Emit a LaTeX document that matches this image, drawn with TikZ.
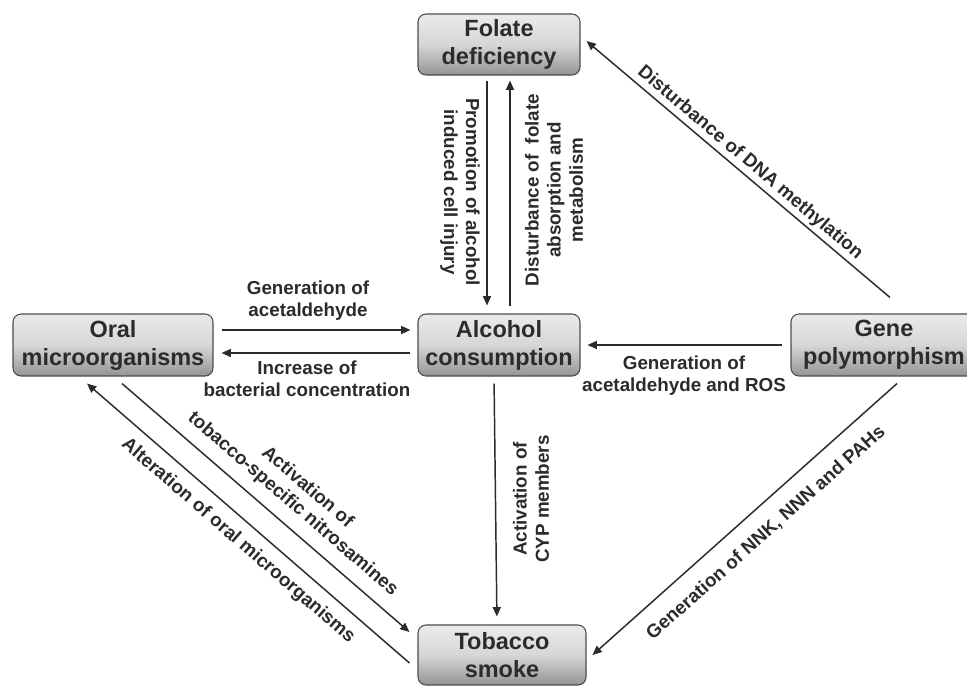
\documentclass[tikz,border=0pt]{standalone}
\usepackage{fontspec}
\setmainfont{Liberation Sans}
\usetikzlibrary{arrows.meta}
\definecolor{ink}{HTML}{2B2B2B}
\begin{document}
\begin{tikzpicture}[x=0.75pt,y=-0.75pt,
  box/.style={draw=black!70, line width=0.8pt, rounded corners=6pt,
    top color=black!8, bottom color=black!42, middle color=black!16,
    inner sep=0pt, align=center, text=ink,
    font=\fontsize{17.6}{21}\selectfont\bfseries},
  lbl/.style={align=center, inner sep=0pt, text=ink,
    font=\fontsize{14.1}{16.6}\selectfont\bfseries},
  arr/.style={draw=ink, line width=1.1pt, -{Triangle[length=7pt,width=6pt]}}
]
\useasboundingbox (0,0) rectangle (967,686);
\clip (0,0) rectangle (967,686);
\fill[white] (0,0) rectangle (967,686);

% nodes
\node[box, minimum width=121.5pt, minimum height=45.75pt] (F) at (499,44.5) {Folate\\deficiency};
\node[box, minimum width=150pt, minimum height=46.5pt] (O) at (113,345) {Oral\\microorganisms};
\node[box, minimum width=121.5pt, minimum height=46.5pt] (A) at (499,345) {Alcohol\\consumption};
\node[box, minimum width=139.5pt, minimum height=46.5pt] (G) at (884,345) {Gene\\polymorphism};
\node[box, minimum width=126pt, minimum height=45pt] (T) at (502,655) {Tobacco\\smoke};

% connectors
\draw[arr, shorten <=3.75pt, shorten >=6pt] ([xshift=-9pt]F.south) -- ([xshift=-9pt]A.north);
\draw[arr, shorten <=5.25pt, shorten >=3.75pt] ([xshift=8.25pt]A.north) -- ([xshift=8.25pt]F.south);
\draw[arr, shorten <=6pt, shorten >=5.25pt] ([yshift=11.25pt]O.east) -- ([yshift=11.25pt]A.west);
\draw[arr, shorten <=5.25pt, shorten >=6pt] ([yshift=-6pt]A.west) -- ([yshift=-6pt]O.east);
\draw[arr, shorten <=6pt, shorten >=5.25pt] (G.west) -- (A.east);
\draw[arr, shorten <=5.25pt, shorten >=6pt] ([xshift=-3.75pt]A.south) -- ([xshift=-3.75pt]T.north);
\draw[arr] ([xshift=-6pt,yshift=-6pt]T.west) -- ([xshift=-19.5pt,yshift=-5.25pt]O.south);
\draw[arr] ([xshift=6.75pt,yshift=-5.25pt]O.south) -- ([xshift=-6pt,yshift=17.25pt]T.west);
\draw[arr] ([xshift=4.5pt,yshift=12pt]G.north) -- ([xshift=4.5pt,yshift=2.6pt]F.east);
\draw[arr] ([xshift=9.75pt,yshift=-5.25pt]G.south) -- ([xshift=4.5pt]T.east);

% labels
\node[lbl, rotate=-90] (l1) at (460,192) {Promotion of alcohol\\induced cell injury};
\node[lbl, rotate=90] (l2) at (554,190) {Disturbance of~ folate\\absorption and\\metabolism};
\node[lbl] (l3) at (308,301) {Generation of\\acetaldehyde};
\node[lbl] (l4) at (307,379) {Increase of\\bacterial concentration};
\node[lbl] (l5) at (684,376) {Generation of\\acetaldehyde and ROS};
\node[lbl, rotate=90] (l6) at (531,499) {Activation of\\CYP members};
\node[lbl, rotate=-40.9] (l7) at (238,541) {Alteration of oral microorganisms};
\node[lbl, rotate=-40.8] (l8) at (300,496) {Activation of\\tobacco-specific nitrosamines};
\node[lbl, rotate=-40.2] (l9) at (750,163) {Disturbance of DNA methylation};
\node[lbl, rotate=41.6] (l10) at (766,533) {Generation of NNK, NNN and PAHs};
\end{tikzpicture}
\end{document}
